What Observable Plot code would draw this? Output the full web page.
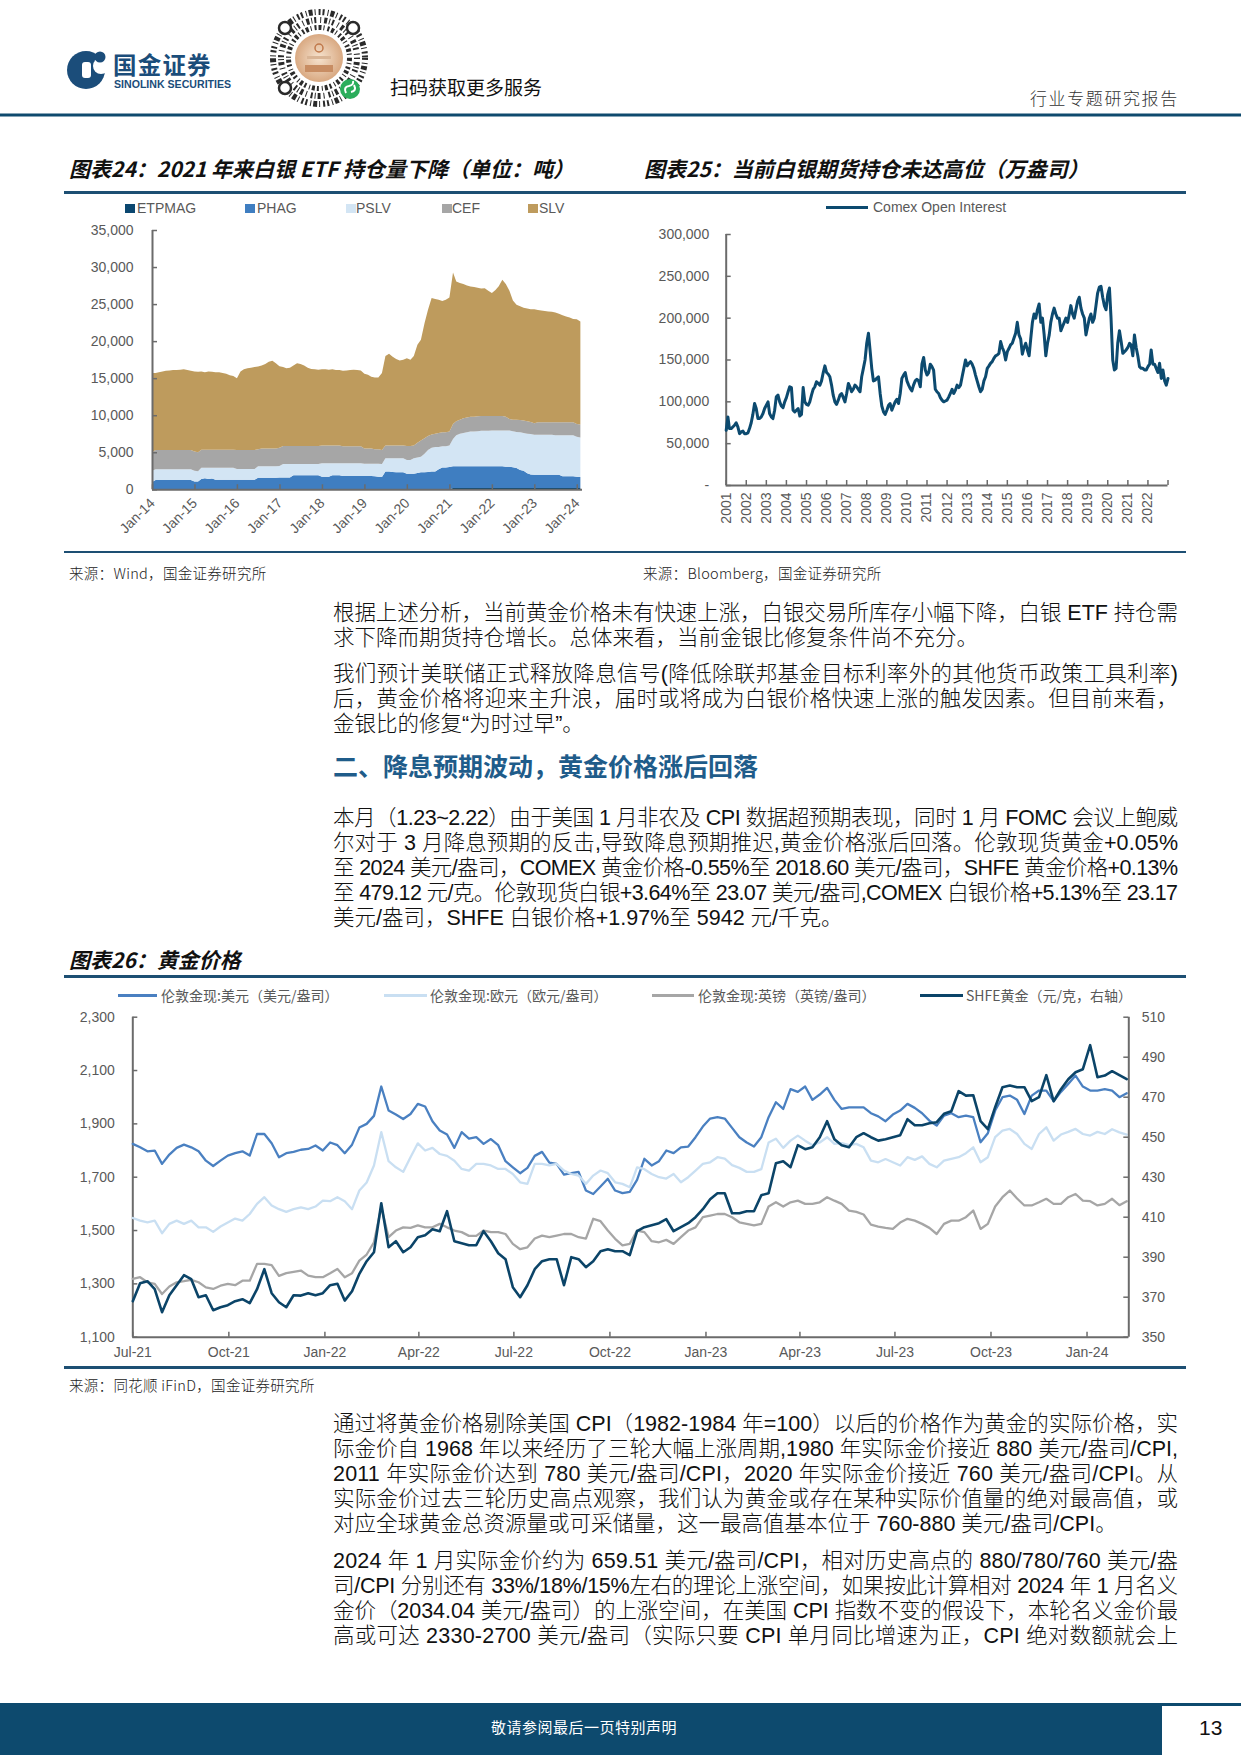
<!DOCTYPE html>
<html><head><meta charset="utf-8">
<script src="https://cdn.jsdelivr.net/npm/d3@7"></script>
<script src="https://cdn.jsdelivr.net/npm/@observablehq/plot@0.6"></script>
<style>
body{margin:0;background:#fff;}
#page{position:relative;width:1241px;height:1755px;overflow:hidden;font-family:"Noto Sans CJK SC","Noto Sans",sans-serif;color:#111;}
.abs{position:absolute;white-space:nowrap;}
.para{position:absolute;left:333px;width:845px;font-family:"Liberation Sans","Noto Sans CJK SC",sans-serif;font-size:21.5px;line-height:25px;color:#111;font-weight:300;}
.para div{height:25px;white-space:nowrap;width:max-content;}
.title{position:absolute;font-size:21px;font-weight:700;font-style:italic;line-height:26px;color:#111;white-space:nowrap;}
.src{position:absolute;font-size:14.5px;line-height:18px;color:#222;white-space:nowrap;font-weight:300;letter-spacing:0.3px;}
.rule{position:absolute;background:#1d4f73;}
.lg{position:absolute;font-family:"Liberation Sans",Arial,sans-serif;font-size:14px;line-height:16px;color:#595959;white-space:nowrap;}
.lgc{position:absolute;font-size:14px;line-height:16px;color:#595959;white-space:nowrap;}
.sq{position:absolute;width:10px;height:9px;}
.sw{position:absolute;height:3px;}
.chart{position:absolute;}
</style></head>
<body><div id="page">

<svg class="abs" width="1241" height="120" style="left:0;top:0">
  <defs><radialGradient id="qg"><stop offset="0" stop-color="#f6e3cf"/><stop offset="1" stop-color="#d9a982"/></radialGradient></defs>
  <circle cx="86" cy="70" r="19" fill="#1b4d7a"/>
  <circle cx="101" cy="66" r="8" fill="#fff"/>
  <circle cx="100" cy="57" r="5.5" fill="#1b4d7a"/>
  <rect x="82" y="62" width="9" height="16" rx="3" fill="#fff"/>
  <text x="113" y="73.5" font-size="23.5" font-weight="700" fill="#1b4d7a" letter-spacing="1.2" font-family="Noto Sans CJK SC">国金证券</text>
  <text x="114" y="87.5" font-size="10.6" font-weight="700" fill="#1b4d7a" font-family="Liberation Sans, Arial">SINOLINK SECURITIES</text>
  <g transform="translate(319,58)">
    <circle r="46" fill="none" stroke="#2a2a2a" stroke-width="6" stroke-dasharray="2 3 1 2 4 2 1 3 2 2"/>
    <circle r="38" fill="none" stroke="#2a2a2a" stroke-width="6" stroke-dasharray="1 3 3 2 1 2 2 4"/>
    <circle r="30.5" fill="none" stroke="#2a2a2a" stroke-width="5" stroke-dasharray="3 2 1 3 2 2"/>
    <circle r="24" fill="url(#qg)"/>
    <circle cy="-10" r="4" fill="none" stroke="#c0784a" stroke-width="1.5"/>
    <rect x="-12" y="-2" width="24" height="3" fill="#d9b596"/>
    <rect x="-14" y="7" width="28" height="7" fill="#c88d63"/>
    <circle cx="-34" cy="-30" r="6" fill="#fff" stroke="#2a2a2a" stroke-width="2.5"/>
    <circle cx="34" cy="-30" r="6" fill="#fff" stroke="#2a2a2a" stroke-width="2.5"/>
    <circle cx="-34" cy="30" r="6" fill="#fff" stroke="#2a2a2a" stroke-width="2.5"/>
    <circle cx="31" cy="31" r="10" fill="#2bad5b"/>
    <path d="M27,35 q-3,-6 3,-7 q5,-1 4,-5 M35,27 q3,6 -3,7" fill="none" stroke="#fff" stroke-width="2"/>
  </g>
  <text x="390" y="95" font-size="19" fill="#111" font-family="Noto Sans CJK SC">扫码获取更多服务</text>
  <text x="1030" y="105" font-size="17" fill="#333" letter-spacing="1.6" font-family="Noto Sans CJK SC" font-weight="300">行业专题研究报告</text>
  <rect x="0" y="113.5" width="1241" height="3" fill="#0e4a6e"/>
</svg>

<div class="title" style="left:69px;top:155px">图表24：2021 年来白银 ETF 持仓量下降（单位：吨）</div>
<div class="title" style="left:644px;top:155px">图表25：当前白银期货持仓未达高位（万盎司）</div>
<div class="rule" style="left:64px;top:191px;width:1122px;height:2.5px"></div>

<div class="sq" style="left:125px;top:204px;background:#0b4770"></div><div class="lg" style="left:137px;top:200px">ETPMAG</div>
<div class="sq" style="left:245px;top:204px;background:#3f7ec1"></div><div class="lg" style="left:257px;top:200px">PHAG</div>
<div class="sq" style="left:346px;top:204px;background:#d3e5f4"></div><div class="lg" style="left:356px;top:200px">PSLV</div>
<div class="sq" style="left:442px;top:204px;background:#a6a6a6"></div><div class="lg" style="left:452px;top:200px">CEF</div>
<div class="sq" style="left:528px;top:204px;background:#be9b5d"></div><div class="lg" style="left:539px;top:200px">SLV</div>

<div class="sw" style="left:826px;top:205.5px;width:42px;background:#0c4a6f"></div><div class="lg" style="left:873px;top:199px">Comex Open Interest</div>

<div id="c24" class="chart" style="left:64px;top:220px;width:530px;height:330px"></div>
<div id="c25" class="chart" style="left:640px;top:220px;width:545px;height:320px"></div>

<div class="rule" style="left:64px;top:550.5px;width:1122px;height:2.5px"></div>
<div class="src" style="left:69px;top:564px">来源：Wind，国金证券研究所</div>
<div class="src" style="left:643px;top:564px">来源：Bloomberg，国金证券研究所</div>

<div class="para" style="top:600.5px">
<div class="jl">根据上述分析，当前黄金价格未有快速上涨，白银交易所库存小幅下降，白银 ETF 持仓需</div>
<div>求下降而期货持仓增长。总体来看，当前金银比修复条件尚不充分。</div>
</div>
<div class="para" style="top:661.5px">
<div class="jl">我们预计美联储正式释放降息信号(降低除联邦基金目标利率外的其他货币政策工具利率)</div>
<div class="jl">后，黄金价格将迎来主升浪，届时或将成为白银价格快速上涨的触发因素。但目前来看，</div>
<div>金银比的修复“为时过早”。</div>
</div>
<div class="abs" style="left:333px;top:753px;font-size:25px;line-height:28px;font-weight:700;color:#1f5c8a;font-family:'Liberation Sans','Noto Sans CJK SC',sans-serif">二、降息预期波动，黄金价格涨后回落</div>
<div class="para" style="top:805.5px">
<div class="jl">本月（1.23~2.22）由于美国 1 月非农及 CPI 数据超预期表现，同时 1 月 FOMC 会议上鲍威</div>
<div class="jl">尔对于 3 月降息预期的反击,导致降息预期推迟,黄金价格涨后回落。伦敦现货黄金+0.05%</div>
<div class="jl">至 2024 美元/盎司，COMEX 黄金价格-0.55%至 2018.60 美元/盎司，SHFE 黄金价格+0.13%</div>
<div class="jl">至 479.12 元/克。伦敦现货白银+3.64%至 23.07 美元/盎司,COMEX 白银价格+5.13%至 23.17</div>
<div>美元/盎司，SHFE 白银价格+1.97%至 5942 元/千克。</div>
</div>

<div class="title" style="left:69px;top:946px">图表26：黄金价格</div>
<div class="rule" style="left:64px;top:975px;width:1122px;height:2.5px"></div>

<div class="sw" style="left:118px;top:993.5px;width:39px;background:#4a80c1"></div><div class="lgc" style="left:161px;top:987px">伦敦金现:美元（美元/盎司）</div>
<div class="sw" style="left:384px;top:993.5px;width:43px;background:#c9dff2"></div><div class="lgc" style="left:430px;top:987px">伦敦金现:欧元（欧元/盎司）</div>
<div class="sw" style="left:652px;top:993.5px;width:42px;background:#a6a6a6"></div><div class="lgc" style="left:698px;top:987px">伦敦金现:英镑（英镑/盎司）</div>
<div class="sw" style="left:920px;top:993.5px;width:43px;background:#0b4468"></div><div class="lgc" style="left:966px;top:987px">SHFE黄金（元/克，右轴）</div>

<div id="c26a" class="chart" style="left:64px;top:1005px;width:1122px;height:360px"></div>
<div id="c26b" class="chart" style="left:64px;top:1005px;width:1122px;height:360px"></div>

<div class="rule" style="left:64px;top:1366px;width:1122px;height:2.5px"></div>
<div class="src" style="left:69px;top:1376px">来源：同花顺 iFinD，国金证券研究所</div>

<div class="para" style="top:1411.5px">
<div class="jl">通过将黄金价格剔除美国 CPI（1982-1984 年=100）以后的价格作为黄金的实际价格，实</div>
<div class="jl">际金价自 1968 年以来经历了三轮大幅上涨周期,1980 年实际金价接近 880 美元/盎司/CPI,</div>
<div class="jl">2011 年实际金价达到 780 美元/盎司/CPI，2020 年实际金价接近 760 美元/盎司/CPI。从</div>
<div class="jl">实际金价过去三轮历史高点观察，我们认为黄金或存在某种实际价值量的绝对最高值，或</div>
<div>对应全球黄金总资源量或可采储量，这一最高值基本位于 760-880 美元/盎司/CPI。</div>
</div>
<div class="para" style="top:1548.5px">
<div class="jl">2024 年 1 月实际金价约为 659.51 美元/盎司/CPI，相对历史高点的 880/780/760 美元/盎</div>
<div class="jl">司/CPI 分别还有 33%/18%/15%左右的理论上涨空间，如果按此计算相对 2024 年 1 月名义</div>
<div class="jl">金价（2034.04 美元/盎司）的上涨空间，在美国 CPI 指数不变的假设下，本轮名义金价最</div>
<div class="jl">高或可达 2330-2700 美元/盎司（实际只要 CPI 单月同比增速为正，CPI 绝对数额就会上</div>
</div>

<div class="abs" style="left:0;top:1703px;width:1162px;height:52px;background:#0d4a6e"></div>
<div class="abs" style="left:1162px;top:1703px;width:79px;height:3px;background:#0d4a6e"></div>
<div class="abs" style="left:491px;top:1717px;font-size:15px;line-height:20px;color:#fff;letter-spacing:0.5px">敬请参阅最后一页特别声明</div>
<div class="abs" style="left:1199px;top:1715px;font-size:21px;line-height:26px;color:#111;font-family:'Liberation Sans Narrow','Liberation Sans',Arial">13</div>

</div>
<script>
// ---------- Chart 24: silver ETF holdings (tonnes), monthly Jan-2014 .. Feb-2024 ----------
const etfNames = ["ETPMAG","PHAG","PSLV","CEF","SLV"];
const etfColors = ["#0b4770","#3f7ec1","#d3e5f4","#a6a6a6","#be9b5d"];
const etpmag = [
0,0,0,0,0,0,0,0,0,0,0,0,
0,0,0,0,0,0,0,0,0,0,0,0,
0,0,0,0,0,0,0,0,0,0,0,0,
0,0,0,0,0,0,0,0,0,0,0,0,
0,0,0,0,0,0,0,0,0,0,0,0,
0,0,0,0,0,0,0,0,0,0,0,0,
0,0,0,0,0,0,0,0,0,0,0,0,
0,160,160,160,160,160,160,160,160,160,160,160,
160,160,160,160,160,160,160,160,160,160,160,160,
160,160,160,160,160,160,160,160,160,160,160,160,
160,160];
const phag = [
1000,1250,1250,1250,1250,1250,1250,1250,1250,1250,1250,1250,
1050,1050,1400,1500,1400,1450,1300,1300,1300,1300,1300,1300,
1300,1300,1300,1300,1300,1300,1550,1550,1550,1550,1550,1550,
1600,1600,1600,1600,1900,1900,1900,1900,1900,1900,1900,1900,
1700,1700,1700,1900,1900,1900,1800,1800,1800,1800,1800,1800,
1800,1800,1800,1750,1700,1650,2400,2400,2350,2300,2300,2300,
2100,2100,2100,2200,2300,2300,2350,2400,2400,2700,2950,2950,
3000,2940,2940,2940,2940,2940,2940,2940,2940,2940,2940,2940,
2940,2940,2940,2940,2900,2880,2800,2700,2440,2340,1990,1840,
1800,1800,1800,1800,1800,1800,1800,1800,1600,1600,1600,1600,
1550,1500];
const pslv = [
1500,1450,1450,1450,1450,1450,1450,1450,1450,1450,1450,1450,
1450,1400,1500,1400,1500,1450,1600,1600,1600,1600,1600,1600,
1450,1450,1450,1450,1450,1450,1550,1550,1550,1550,1550,1550,
1550,1800,1800,1800,1500,1500,1500,1500,1500,1500,1500,1500,
1800,1800,1800,1600,1600,1600,1700,1700,1700,1700,1700,1700,
1650,1650,1650,1700,1750,1750,1800,1800,1850,1900,1900,1900,
1850,1850,2100,2100,2100,2500,2950,3200,3300,3000,2850,2850,
2900,3700,4200,4400,4500,4600,4700,4700,4750,4800,4800,4800,
4850,4850,4850,4850,4890,4910,4890,4890,5100,5100,5350,5450,
5390,5390,5390,5390,5390,5390,5340,5340,5540,5540,5540,5540,
5390,5340];
const cef = [
2500,2600,2600,2600,2600,2600,2600,2600,2600,2600,2600,2600,
2600,2550,2450,2450,2450,2450,2450,2450,2450,2450,2450,2450,
2550,2550,2550,2550,2550,2550,2300,2400,2400,2400,2400,2400,
2450,2450,2450,2450,2450,2450,2450,2450,2450,2450,2450,2450,
2400,2400,2400,2400,2400,2400,2300,2300,2300,2300,2300,2300,
2050,2050,2050,1950,1950,1900,1700,1700,1700,1700,1700,1700,
1900,1900,1700,2000,2200,2100,1900,1800,1800,1900,1900,1900,
1900,2000,1900,1900,2000,2000,2000,2000,2000,2000,2000,2000,
1950,1950,1950,1950,1850,1550,1550,1650,1650,1700,1700,1650,
1550,1700,1700,1700,1700,1700,1750,1750,1750,1750,1750,1750,
1700,1750];
const slv = [
10700,10400,10500,10600,10700,10750,10800,10800,10850,10900,10800,10700,
10800,10850,10550,10450,10550,10500,10450,10450,10350,10250,10050,9950,
9700,10600,10900,11050,11100,11200,11180,11200,11400,11700,11840,11500,
11000,10650,10500,10550,10850,11150,11050,10850,10550,10400,10350,10300,
10300,10300,10250,10300,10200,10200,10200,10250,10300,10350,10300,10250,
10100,9950,9700,9690,9700,10400,12100,12390,12000,11700,11500,11600,
11850,11650,12100,13200,13580,15530,17030,18410,18200,18000,17700,17900,
18100,20480,18860,18440,18100,17800,17590,17500,17350,17200,17250,16900,
16590,17000,17500,18390,17900,17300,16100,15510,15350,15200,15200,15200,
15400,15150,15100,15000,14960,14900,14800,14650,14450,14280,14150,13950,
14170,13910];
const etfTicks = [0,5000,10000,15000,20000,25000,30000,35000];

// ---------- Chart 25: Comex silver open interest, monthly Jan-2001 .. Jan-2023 ----------
const comexOpenInterest = [
66000,82000,68000,68000,70000,72000,75000,70000,62000,64000,65000,62000,
62000,63000,68000,75000,85000,98000,92000,80000,80000,82000,86000,92000,
96000,100000,86000,82000,80000,90000,106000,108000,100000,95000,93000,100000,
105000,112000,118000,117000,90000,88000,90000,92000,83000,85000,117000,100000,
97000,96000,100000,108000,115000,118000,124000,122000,120000,125000,135000,143000,
135000,133000,130000,120000,108000,100000,97000,102000,108000,110000,105000,100000,
110000,122000,118000,112000,115000,120000,118000,115000,112000,130000,140000,150000,
170000,182000,162000,140000,125000,126000,128000,130000,110000,95000,88000,85000,
90000,96000,98000,90000,95000,100000,103000,98000,110000,128000,132000,135000,
125000,120000,116000,113000,120000,125000,127000,125000,118000,145000,153000,138000,
132000,135000,145000,142000,138000,115000,112000,110000,105000,102000,100000,101000,
102000,106000,110000,115000,110000,114000,120000,117000,120000,130000,140000,150000,
143000,146000,148000,145000,140000,132000,125000,118000,112000,115000,125000,130000,
140000,143000,146000,148000,152000,155000,156000,158000,172000,165000,160000,150000,
160000,164000,168000,170000,176000,182000,195000,180000,175000,157000,165000,170000,
162000,155000,175000,195000,205000,200000,210000,217000,195000,200000,180000,155000,
170000,180000,195000,205000,212000,205000,200000,200000,185000,190000,195000,200000,
195000,205000,215000,205000,200000,210000,220000,225000,212000,205000,200000,180000,
190000,200000,205000,195000,200000,215000,230000,237000,238000,225000,215000,210000,
228000,236000,200000,150000,138000,140000,170000,185000,172000,158000,160000,162000,
165000,170000,168000,155000,180000,165000,155000,142000,140000,140000,138000,138000,
142000,145000,162000,145000,145000,140000,135000,146000,128000,138000,125000,120000,
128000];
const comexTicks = [0,50000,100000,150000,200000,250000,300000];

// ---------- Chart 26: gold prices, weekly Jul-2021 .. Feb-2024 ----------
const goldUSD = [1825,1812,1797,1800,1750,1785,1810,1822,1812,1797,1762,1742,1762,1781,1790,1797,1781,1862,1862,1827,1775,1790,1795,1803,1806,1819,1800,1830,1820,1790,1822,1886,1900,1930,2040,1950,1935,1918,1937,1975,1965,1910,1875,1860,1810,1869,1845,
1850,1825,1843,1820,1760,1737,1715,1735,1780,1795,1755,1750,1710,1715,1720,1650,1637,1665,1694,1650,1640,1645,1690,1769,1744,1760,1800,1790,1812,1815,1850,1890,1920,1925,1920,1885,1850,1830,1815,1850,1925,1981,1956,2030,2020,2040,
1990,2010,2035,1990,1956,1962,1962,1962,1940,1928,1910,1935,1950,1975,1960,1940,1912,1894,1931,1940,1925,1931,1925,1831,1865,1950,2000,2006,1990,1937,2006,2025,2025,1985,2020,2050,2081,2040,2025,2025,2030,2025,2000,2015];
const goldEUR = [1547,1537,1531,1537,1490,1525,1537,1525,1537,1512,1512,1495,1515,1530,1545,1537,1562,1600,1625,1594,1580,1570,1580,1587,1580,1590,1612,1610,1625,1610,1580,1650,1680,1744,1869,1760,1737,1720,1775,1827,1800,1810,1787,1780,1762,1731,1725,
1750,1750,1744,1731,1731,1712,1681,1675,1750,1750,1744,1750,1725,1712,1706,1675,1706,1725,1715,1681,1675,1662,1737,1730,1712,1700,1695,1712,1681,1700,1725,1750,1756,1775,1770,1745,1735,1720,1720,1730,1830,1844,1810,1837,1856,1837,
1820,1830,1850,1825,1828,1820,1825,1812,1762,1756,1768,1756,1744,1775,1765,1778,1750,1737,1762,1769,1775,1790,1812,1756,1775,1850,1875,1881,1862,1825,1806,1862,1887,1837,1860,1870,1881,1862,1856,1870,1862,1880,1868,1860];
const goldGBP = [1319,1325,1306,1300,1262,1290,1306,1310,1315,1306,1287,1281,1293,1300,1295,1312,1312,1375,1375,1370,1330,1340,1345,1350,1331,1325,1325,1340,1356,1325,1340,1387,1410,1456,1587,1475,1500,1512,1510,1519,1512,1512,1525,1512,1500,1494,1480,
1480,1500,1494,1494,1487,1450,1430,1437,1470,1481,1475,1481,1487,1487,1475,1470,1544,1535,1500,1469,1444,1450,1500,1494,1460,1456,1465,1450,1475,1500,1512,1550,1556,1562,1562,1550,1531,1525,1519,1525,1590,1606,1590,1606,1612,1600,
1600,1606,1625,1612,1600,1575,1570,1560,1522,1515,1510,1506,1530,1544,1537,1525,1510,1487,1525,1537,1537,1550,1575,1506,1525,1590,1625,1650,1620,1594,1594,1606,1619,1600,1600,1625,1637,1612,1610,1594,1600,1619,1595,1610];
const goldSHFE = [368,377,378,374,362.5,371,376,381,379,370,371,363.5,365,366,368,369,367,374,384,372,367.5,365,371,370.8,372,371,372,376,376.7,368.3,373,381.7,388,392.5,417,395,398,392.5,395,400,401,404,403,413,398,397,396,
396,403,398,392,389,375,370,376,384,388,389,389,376,390,389,385,388,393,394,393,393,391,403,405,406,407,409,403,405,407,410,414,419,422,422,412,412,413,413,421,422,437,438,435,446,444,
445,450,458,449,446,445,450,452,450,448.3,449,450,451,459,456,456,457,457.5,461.7,463,473,470.8,471,458,454,465,475,475.8,475,475,468,470,481,468,474,479,482.5,484,496,480,480.8,483,481,479];
const goldLeftTicks = [1100,1300,1500,1700,1900,2100,2300];
const goldRightTicks = [350,370,390,410,430,450,470,490,510];

const axisC = "#6b6b6b";
const baseStyle = {fontFamily:"'Liberation Sans', Arial, sans-serif", fontSize:"14px", color:"#595959", background:"transparent", overflow:"visible"};

// Chart 24
{
  const W=530,H=330,ML=88,MR=12,MT=10,MB=60.7, pw=W-ML-MR, ph=H-MT-MB;
  const months = d3.utcMonth.range(new Date(Date.UTC(2014,0,1)), new Date(Date.UTC(2024,2,1)));
  const series = [etpmag, phag, pslv, cef, slv];
  const rows = etfNames.flatMap((name,k)=>months.map((date,i)=>({date, series:name, value:series[k][i]})));
  const x0 = new Date(Date.UTC(2014,0,1)), x1 = new Date(Date.UTC(2024,1,15));
  const jan = d3.utcYear.range(new Date(Date.UTC(2014,0,1)), new Date(Date.UTC(2024,1,1)));
  const svg = Plot.plot({
    width:W,height:H,marginLeft:ML,marginRight:MR,marginTop:MT,marginBottom:MB,
    x:{type:"utc",domain:[x0,x1],label:null}, y:{domain:[0,35000],label:null},
    color:{domain:etfNames,range:etfColors},
    style:baseStyle,
    marks:[
      Plot.areaY(rows,{x:"date",y:"value",z:"series",fill:"series",order:etfNames}),
      Plot.ruleX([x0],{stroke:axisC,strokeWidth:2}),
      Plot.ruleY([0],{stroke:axisC,strokeWidth:2}),
      Plot.tickY(etfTicks,{y:d=>d,stroke:axisC,strokeWidth:1.5,insetRight:pw-5}),
      Plot.tickX(jan,{x:d=>d,stroke:axisC,strokeWidth:1.5,insetTop:ph-5}),
      Plot.axisY(etfTicks,{tickSize:0,tickPadding:19,label:null,tickFormat:d3.format(",")}),
      Plot.axisX(jan,{tickSize:0,tickPadding:11,label:null,tickRotate:-45,tickFormat:d3.utcFormat("%b-%y")})
    ]
  });
  document.getElementById("c24").append(svg);
}

// Chart 25
{
  const W=545,H=320,ML=85.7,MR=17.5,MT=14,MB=55, pw=W-ML-MR, ph=H-MT-MB;
  const months = d3.utcMonth.range(new Date(Date.UTC(2001,0,1)), new Date(Date.UTC(2023,1,1)));
  const x0 = new Date(Date.UTC(2001,0,1)), x1 = new Date(Date.UTC(2023,0,1));
  const years = d3.utcYear.range(x0, x1);
  const svg = Plot.plot({
    width:W,height:H,marginLeft:ML,marginRight:MR,marginTop:MT,marginBottom:MB,
    x:{type:"utc",domain:[x0,x1],label:null}, y:{domain:[0,300000],label:null},
    style:baseStyle,
    marks:[
      Plot.ruleX([x0],{stroke:axisC,strokeWidth:2}),
      Plot.ruleY([0],{stroke:axisC,strokeWidth:2}),
      Plot.tickY(comexTicks,{y:d=>d,stroke:axisC,strokeWidth:1.5,insetRight:pw-5}),
      Plot.tickX(years.concat([x1]),{x:d=>d,stroke:axisC,strokeWidth:1.5,insetTop:ph-5}),
      Plot.lineY(comexOpenInterest,{x:(d,i)=>months[i],y:d=>d,stroke:"#0c4a6f",strokeWidth:3}),
      Plot.axisY(comexTicks,{tickSize:0,tickPadding:17,label:null,tickFormat:d=>d===0?"-":d3.format(",")(d)}),
      Plot.axisX(years,{tickSize:0,tickPadding:7,label:null,tickRotate:-90,tickFormat:d3.utcFormat("%Y")})
    ]
  });
  document.getElementById("c25").append(svg);
}

// Chart 26 (two overlaid plots sharing x, left and right y scales)
{
  const W=1122,H=360,ML=68.3,MR=57.7,MT=11.7,MB=28.3, pw=W-ML-MR, ph=H-MT-MB;
  const x0 = new Date(Date.UTC(2021,6,1)), x1 = new Date(Date.UTC(2024,1,10));
  const weeks = d3.utcDay.range(x0, new Date(Date.UTC(2024,1,9)), 7);
  const q = d3.utcMonth.every(3).range(x0, new Date(Date.UTC(2024,1,2)));
  const svgA = Plot.plot({
    width:W,height:H,marginLeft:ML,marginRight:MR,marginTop:MT,marginBottom:MB,
    x:{type:"utc",domain:[x0,x1],label:null}, y:{domain:[1100,2300],label:null},
    style:baseStyle,
    marks:[
      Plot.ruleX([x0],{stroke:axisC,strokeWidth:2}),
      Plot.ruleY([1100],{stroke:axisC,strokeWidth:2}),
      Plot.tickY(goldLeftTicks,{y:d=>d,stroke:axisC,strokeWidth:1.5,insetRight:pw-5}),
      Plot.tickX(q,{x:d=>d,stroke:axisC,strokeWidth:1.5,insetTop:ph-5}),
      Plot.lineY(goldUSD,{x:(d,i)=>weeks[i],y:d=>d,stroke:"#4a80c1",strokeWidth:2.3}),
      Plot.lineY(goldEUR,{x:(d,i)=>weeks[i],y:d=>d,stroke:"#c9dff2",strokeWidth:2.3}),
      Plot.lineY(goldGBP,{x:(d,i)=>weeks[i],y:d=>d,stroke:"#a6a6a6",strokeWidth:2.3}),
      Plot.axisY(goldLeftTicks,{tickSize:0,tickPadding:18,label:null,tickFormat:d3.format(",")}),
      Plot.axisX(q,{tickSize:0,tickPadding:10,label:null,tickFormat:d3.utcFormat("%b-%y")})
    ]
  });
  document.getElementById("c26a").append(svgA);
  const svgB = Plot.plot({
    width:W,height:H,marginLeft:ML,marginRight:MR,marginTop:MT,marginBottom:MB,
    x:{type:"utc",domain:[x0,x1],axis:null,label:null}, y:{domain:[350,510],label:null},
    style:baseStyle,
    marks:[
      Plot.ruleX([x1],{stroke:axisC,strokeWidth:2}),
      Plot.tickY(goldRightTicks,{y:d=>d,stroke:axisC,strokeWidth:1.5,insetLeft:pw-5}),
      Plot.lineY(goldSHFE,{x:(d,i)=>weeks[i],y:d=>d,stroke:"#0b4468",strokeWidth:2.6}),
      Plot.axisY(goldRightTicks,{anchor:"right",tickSize:0,tickPadding:13,label:null})
    ]
  });
  document.getElementById("c26b").append(svgB);
}

// justify body lines to the full column width
function justifyLines(){
  document.querySelectorAll(".jl").forEach(el=>{
    el.style.letterSpacing="0px";
    const w = el.getBoundingClientRect().width;
    const n = Array.from(el.textContent).length;
    el.style.letterSpacing = ((845 - w)/(n-1)) + "px";
  });
}
justifyLines();
if (document.fonts && document.fonts.ready) document.fonts.ready.then(justifyLines);
</script>
</body></html>
